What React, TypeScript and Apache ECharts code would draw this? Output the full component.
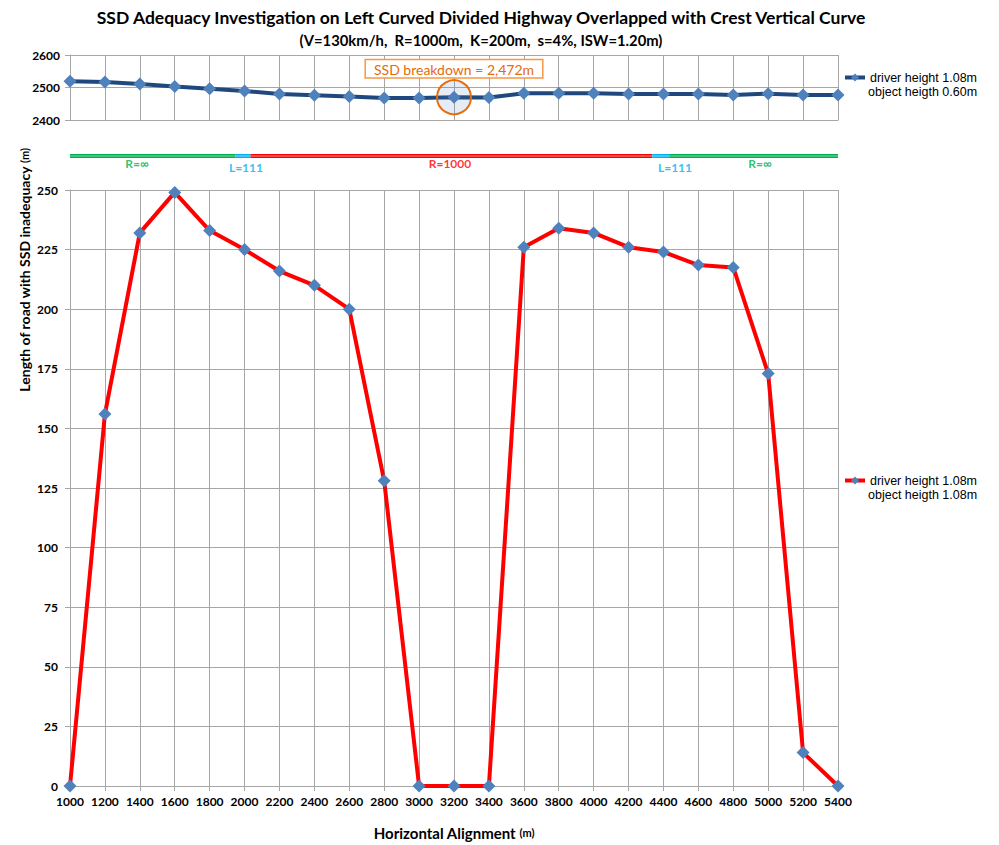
import React, { useEffect, useRef } from "react";
import * as echarts from "echarts";

const stations = [1000, 1200, 1400, 1600, 1800, 2000, 2200, 2400, 2600, 2800, 3000, 3200, 3400, 3600, 3800, 4000, 4200, 4400, 4600, 4800, 5000, 5200, 5400];
const sightDistance = [2519, 2517, 2511, 2503, 2496, 2489, 2480, 2476, 2472, 2468, 2468, 2470, 2469, 2482, 2482, 2482, 2480, 2480, 2480, 2477, 2481, 2477, 2477];
const inadequacy = [0, 156, 232, 249, 233, 225, 216, 210, 200, 128, 0, 0, 0, 226, 234, 232, 226, 224, 218.5, 217.5, 173, 14, 0];
const breakdownStation = 3200;
const breakdownLabel = "SSD breakdown = 2,472m";
const alignmentBreaks = [1000, 1947, 2035, 4336, 4433, 5400];
const alignmentLabels = ["R=\u221e", "L=111", "R=1000", "L=111", "R=\u221e"];
const alignmentLabelX = [1384, 2008, 3177, 4466, 4953];
const topTicks = [2400, 2500, 2600];
const mainTicksMax = 250;
const topSeriesName = "driver height 1.08m\nobject heigth 0.60m";
const mainSeriesName = "driver height 1.08m\nobject heigth 1.08m";

const segColors = ["#00B050", "#00B0F0", "#FF0000", "#00B0F0", "#00B050"];
const segLight = ["#7FD8A7", "#8FDCF8", "#FF9A9A", "#8FDCF8", "#7FD8A7"];
const FONT = "Lato";
const GRID_COLOR = "#A6A6A6";

export default function App() {
  const ref = useRef<HTMLDivElement>(null);
  useEffect(() => {
    if (!ref.current) return;
    const chart = echarts.init(ref.current, undefined, { renderer: "svg" });
    const left = 70;
    const width = 768;

    const bandSeries: any[] = [];
    alignmentLabels.forEach((_, i) => {
      const data = [
        [alignmentBreaks[i], 0.5],
        [alignmentBreaks[i + 1], 0.5],
      ];
      bandSeries.push({
        type: "line",
        xAxisIndex: 2,
        yAxisIndex: 2,
        data,
        showSymbol: false,
        silent: true,
        lineStyle: { color: segColors[i], width: 4 },
      });
      bandSeries.push({
        type: "line",
        xAxisIndex: 2,
        yAxisIndex: 2,
        data,
        showSymbol: false,
        silent: true,
        lineStyle: { color: segLight[i], width: 1 },
      });
    });

    const bandLabelSeries = {
      type: "scatter",
      xAxisIndex: 2,
      yAxisIndex: 2,
      symbolSize: 0,
      silent: true,
      data: alignmentLabels.map((t, i) => ({
        value: [alignmentLabelX[i], 0.5],
        label: {
          show: true,
          formatter: t,
          position: "inside",
          offset: [0, t.startsWith("L") ? 11 : 7],
          color: segColors[i],
          fontFamily: FONT,
          fontWeight: "bold",
          fontSize: 12,
        },
      })),
    };

    const axisLabelStyle = {
      fontFamily: FONT,
      fontWeight: "bold",
      fontSize: 12,
      color: "#000",
      formatter: (v: number) => String(v),
    };

    const legendText = {
      fontFamily: "Liberation Sans",
      fontSize: 12.5,
      color: "#000",
      lineHeight: 15,
    };
    const firstLine = (n: string) => n.split("\n")[0];
    const secondLine = (n: string) => n.split("\n")[1];
    const legendSecond = (y: number, text: string) => ({
      type: "text",
      style: {
        text,
        x: 868,
        y,
        fontFamily: "Liberation Sans",
        fontSize: 12.5,
        fill: "#000",
        align: "left",
        verticalAlign: "middle",
      },
    });

    chart.setOption({
      animation: false,
      graphic: [
        {
          type: "text",
          style: {
            text: "SSD Adequacy Investigation on Left Curved Divided Highway Overlapped with Crest Vertical Curve",
            fontFamily: FONT,
            fontWeight: "bold",
            fontSize: 17.5,
            fill: "#000",
            x: 481,
            y: 17,
            align: "center",
            verticalAlign: "middle",
          },
        },
        {
          type: "text",
          style: {
            text: "(V=130km/h,  R=1000m,  K=200m,  s=4%, ISW=1.20m)",
            fontFamily: FONT,
            fontWeight: "bold",
            fontSize: 14.8,
            fill: "#000",
            x: 481,
            y: 40,
            align: "center",
            verticalAlign: "middle",
          },
        },
        {
          type: "text",
          rotation: Math.PI / 2,
          x: 24,
          y: 270,
          style: {
            text: "{a|Length of road with SSD inadequacy }{b|(m)}",
            rich: {
              a: { fontFamily: FONT, fontWeight: "bold", fontSize: 14, fill: "#000" },
              b: { fontFamily: FONT, fontWeight: "bold", fontSize: 11, fill: "#000" },
            },
            align: "center",
            verticalAlign: "middle",
          },
        },
        legendSecond(92, secondLine(topSeriesName)),
        legendSecond(495, secondLine(mainSeriesName)),
      ],
      legend: [
        {
          data: [topSeriesName],
          formatter: firstLine,
          left: 843,
          top: 70,
          padding: 0,
          itemWidth: 20,
          itemHeight: 10,
          lineStyle: { width: 4 },
          textStyle: legendText,
          selectedMode: false,
        },
        {
          data: [mainSeriesName],
          formatter: firstLine,
          left: 843,
          top: 473,
          padding: 0,
          itemWidth: 20,
          itemHeight: 10,
          lineStyle: { width: 4 },
          textStyle: legendText,
          selectedMode: false,
        },
      ],
      grid: [
        { left, width, top: 55, height: 65 },
        { left, width, top: 190, height: 604 },
        { left, width, top: 151, height: 10 },
      ],
      xAxis: [
        {
          gridIndex: 0,
          type: "value",
          min: 1000,
          max: 5400,
          interval: 200,
          axisLabel: { show: false },
          axisTick: { show: false },
          axisLine: { lineStyle: { color: GRID_COLOR } },
          splitLine: { show: true, lineStyle: { color: GRID_COLOR } },
        },
        {
          gridIndex: 1,
          type: "value",
          min: 1000,
          max: 5400,
          interval: 200,
          axisLabel: { ...axisLabelStyle, margin: 9 },
          axisTick: { show: true, length: 5, lineStyle: { color: GRID_COLOR } },
          axisLine: { lineStyle: { color: GRID_COLOR } },
          splitLine: { show: true, lineStyle: { color: GRID_COLOR } },
          name: "{a|Horizontal Alignment }{b|(m)}",
          nameLocation: "middle",
          nameGap: 39,
          nameTextStyle: {
            rich: {
              a: { fontFamily: FONT, fontWeight: "bold", fontSize: 15, color: "#000" },
              b: { fontFamily: FONT, fontWeight: "bold", fontSize: 11, color: "#000" },
            },
          },
        },
        {
          gridIndex: 2,
          type: "value",
          min: 1000,
          max: 5400,
          show: false,
        },
      ],
      yAxis: [
        {
          gridIndex: 0,
          type: "value",
          min: topTicks[0],
          max: topTicks[topTicks.length - 1],
          interval: 100,
          axisLabel: { ...axisLabelStyle, margin: 10 },
          axisTick: { show: true, length: 5, lineStyle: { color: GRID_COLOR } },
          axisLine: { show: true, lineStyle: { color: GRID_COLOR } },
          splitLine: { show: true, lineStyle: { color: GRID_COLOR } },
        },
        {
          gridIndex: 1,
          type: "value",
          min: 0,
          max: mainTicksMax,
          interval: 25,
          axisLabel: { ...axisLabelStyle, margin: 12 },
          axisTick: { show: true, length: 5, lineStyle: { color: GRID_COLOR } },
          axisLine: { show: true, lineStyle: { color: GRID_COLOR } },
          splitLine: { show: true, lineStyle: { color: GRID_COLOR } },
        },
        {
          gridIndex: 2,
          type: "value",
          min: 0,
          max: 1,
          show: false,
        },
      ],
      series: [
        {
          name: topSeriesName,
          type: "line",
          xAxisIndex: 0,
          yAxisIndex: 0,
          data: stations.map((s, i) => [s, sightDistance[i]]),
          symbol: "diamond",
          symbolSize: 13,
          itemStyle: { color: "#4F81BD" },
          lineStyle: { color: "#1F497D", width: 4 },
          markPoint: {
            silent: true,
            data: [
              {
                coord: [breakdownStation, sightDistance[stations.indexOf(breakdownStation)]],
                symbol: "circle",
                symbolSize: 34,
                itemStyle: { color: "rgba(79,129,189,0.15)", borderColor: "#E46C0A", borderWidth: 2 },
                label: {
                  show: true,
                  position: "top",
                  distance: 2,
                  formatter: breakdownLabel,
                  color: "#E46C0A",
                  fontFamily: FONT,
                  fontSize: 14,
                  backgroundColor: "#fff",
                  borderColor: "#F79646",
                  borderWidth: 1.5,
                  padding: [2, 8, 1, 8],
                },
              },
            ],
          },
        },
        {
          name: mainSeriesName,
          type: "line",
          xAxisIndex: 1,
          yAxisIndex: 1,
          data: stations.map((s, i) => [s, inadequacy[i]]),
          symbol: "diamond",
          symbolSize: 13,
          itemStyle: { color: "#4F81BD" },
          lineStyle: { color: "#FF0000", width: 4 },
        },
        ...bandSeries,
        bandLabelSeries,
      ],
    });
    return () => chart.dispose();
  }, []);
  return (
    <div
      ref={ref}
      style={{ position: "fixed", left: 0, top: 0, width: 999, height: 845, background: "#fff" }}
    />
  );
}
